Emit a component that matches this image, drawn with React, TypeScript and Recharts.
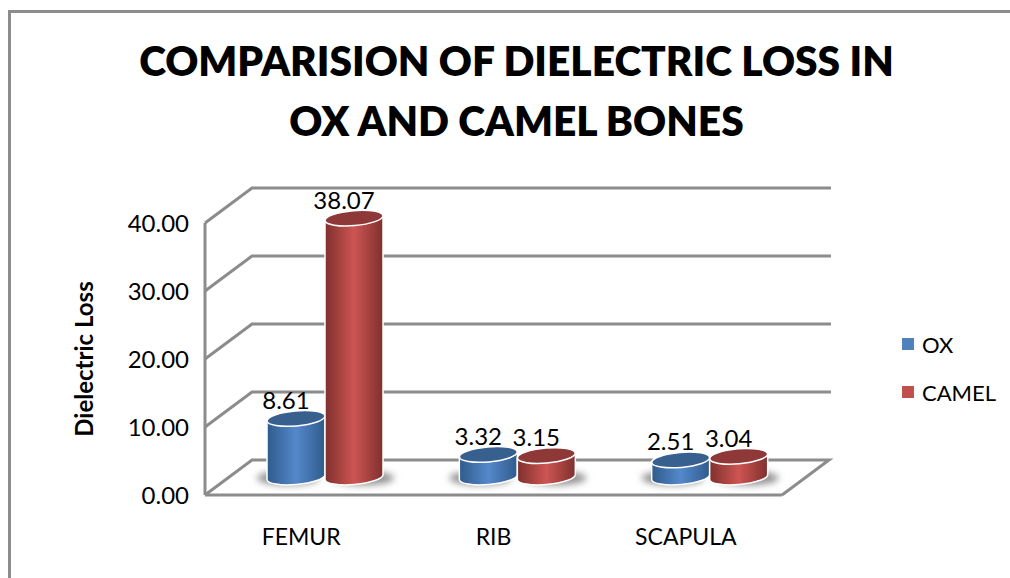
import { BarChart, Bar, XAxis, YAxis, CartesianGrid, Legend, LabelList } from 'recharts';

const categories = ['FEMUR', 'RIB', 'SCAPULA'];
const oxValues = [8.61, 3.32, 2.51];
const camelValues = [38.07, 3.15, 3.04];
const yTicks = [0, 10, 20, 30, 40];

const data = categories.map((name, i) => ({ name, OX: oxValues[i], CAMEL: camelValues[i] }));

const FONT = 'Lato, sans-serif';
const GRAY = '#8c8c8c';

// how far back the bars and the back wall sit from the front axes
const BAR_DX = 24;
const BAR_DY = -18;
const WALL_DX = 47;
const WALL_DY = -35;

const Cylinder = (props: any) => {
  const { x, y, width, height, grad, top, shadowShift } = props;
  const r = width / 2;
  const cx = x + r + BAR_DX;
  const ty = y + BAR_DY;
  const by = y + height + BAR_DY;
  const ry = 7.5;
  const tilt = 2.5;
  const body = `M${cx - r} ${ty + tilt} L${cx - r} ${by + tilt} A${r} ${ry} -5 0 0 ${cx + r} ${by - tilt} L${cx + r} ${ty - tilt} A${r} ${ry} -5 0 0 ${cx - r} ${ty + tilt} Z`;
  return (
    <g>
      <ellipse cx={cx + shadowShift} cy={by + 1} rx={r + 2} ry={7} fill="#8f8f8f" filter="url(#barShadow)" />
      <path d={body} fill={`url(#${grad})`} stroke="#fff" strokeWidth={1.5} />
      <ellipse cx={cx} cy={ty} rx={r} ry={ry} transform={`rotate(-5 ${cx} ${ty})`} fill={top} stroke="#fff" strokeWidth={1.5} />
    </g>
  );
};

const ValueLabel = (props: any) => {
  const { x, y, width, value } = props;
  return (
    <text x={x + width / 2 + BAR_DX - 10} y={y + BAR_DY - 19} textAnchor="middle" dominantBaseline="central" fontFamily={FONT} fontSize={24} fill="#000">
      {Number(value).toFixed(2)}
    </text>
  );
};

const WallLine = (props: any) => {
  const { x1, y1, x2, y, height } = props;
  const isFloor = Math.abs(y1 - (y + height)) < 1;
  const pts = [`${x1},${y1}`, `${x1 + WALL_DX},${y1 + WALL_DY}`, `${x2 + WALL_DX + (isFloor ? 0 : 2)},${y1 + WALL_DY}`];
  if (isFloor) pts.push(`${x2},${y1}`);
  return <polyline points={pts.join(' ')} fill="none" stroke={GRAY} strokeWidth={3} />;
};

const LegendBox = (props: any) => (
  <div style={{ fontFamily: FONT, fontSize: 22, color: '#000' }}>
    {props.payload.map((item: any) => (
      <div key={item.value} style={{ display: 'flex', alignItems: 'center', height: 48 }}>
        <span style={{ width: 12, height: 12, background: item.color, marginRight: 8 }} />
        {item.value}
      </div>
    ))}
  </div>
);

export default function App() {
  return (
    <div style={{ position: 'fixed', left: 0, top: 0, width: 1010, height: 578, background: '#fff', overflow: 'hidden' }}>
      <div style={{ position: 'absolute', left: 8, top: 10, right: 0, bottom: 0, borderTop: `3px solid ${GRAY}`, borderLeft: `3px solid ${GRAY}` }} />
      <div style={{ position: 'absolute', left: 0, top: 31, width: 1033, textAlign: 'center', fontFamily: FONT, fontWeight: 800, fontSize: 40.7, lineHeight: '60px', color: '#000' }}>
        COMPARISION OF DIELECTRIC LOSS IN
        <br />
        OX AND CAMEL BONES
      </div>
      <BarChart
        width={1010}
        height={578}
        data={data}
        margin={{ top: 223, right: 228, bottom: 53, left: 145 }}
        barSize={58}
        barGap={0}
        style={{ position: 'absolute', left: 0, top: 0 }}
      >
        <defs>
          <linearGradient id="oxBody" x1="0" y1="0" x2="1" y2="0">
            <stop offset="0" stopColor="#2f5b8c" />
            <stop offset="0.5" stopColor="#5588cb" />
            <stop offset="1" stopColor="#2f5b8c" />
          </linearGradient>
          <linearGradient id="camelBody" x1="0" y1="0" x2="1" y2="0">
            <stop offset="0" stopColor="#7f302e" />
            <stop offset="0.5" stopColor="#cd5552" />
            <stop offset="1" stopColor="#7f302e" />
          </linearGradient>
          <filter id="barShadow" x="-30%" y="-100%" width="160%" height="300%">
            <feGaussianBlur stdDeviation="3.5" />
          </filter>
        </defs>
        <CartesianGrid vertical={false} horizontal={(p: any) => <WallLine key={p.key} {...p} />} />
        <XAxis
          dataKey="name"
          height={30}
          axisLine={{ stroke: GRAY, strokeWidth: 3 }}
          tickLine={false}
          tickMargin={28}
          tick={{ fill: '#000', fontFamily: FONT, fontSize: 23 }}
        />
        <YAxis
          width={60}
          domain={[0, 40]}
          ticks={yTicks}
          interval={0}
          tickFormatter={(v: number) => v.toFixed(2)}
          axisLine={{ stroke: GRAY, strokeWidth: 3 }}
          tickLine={false}
          tickMargin={10}
          tick={{ fill: '#000', fontFamily: FONT, fontSize: 24 }}
          label={{ value: 'Dielectric Loss', angle: -90, position: 'center', dx: -91, dy: 0, fill: '#000', fontFamily: FONT, fontWeight: 700, fontSize: 24 }}
        />
        <Legend layout="vertical" align="center" verticalAlign="middle" itemSorter={null} content={<LegendBox />} wrapperStyle={{ left: 902, top: 320, width: 108 }} />
        <Bar dataKey="OX" fill="#4f81bd" isAnimationActive={false} shape={(p: any) => <Cylinder {...p} grad="oxBody" top="#38608e" shadowShift={-8} />}>
          <LabelList dataKey="OX" content={<ValueLabel />} />
        </Bar>
        <Bar dataKey="CAMEL" fill="#c0504d" isAnimationActive={false} shape={(p: any) => <Cylinder {...p} grad="camelBody" top="#8e3838" shadowShift={9} />}>
          <LabelList dataKey="CAMEL" content={<ValueLabel />} />
        </Bar>
      </BarChart>
    </div>
  );
}
